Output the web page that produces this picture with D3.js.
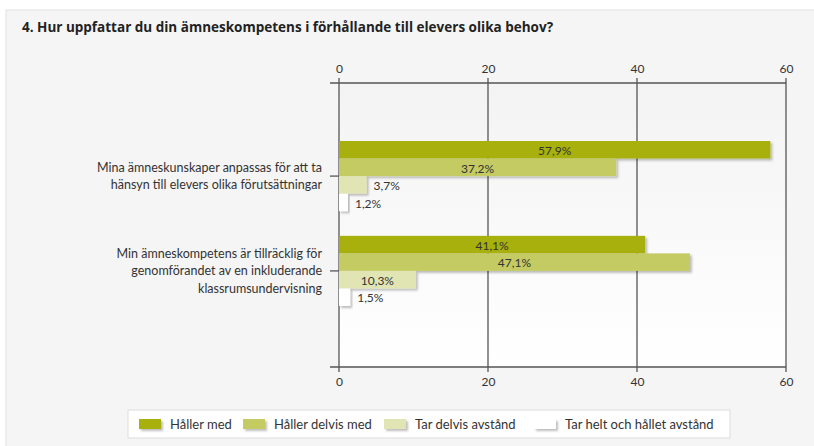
<!DOCTYPE html>
<html>
<head>
<meta charset="utf-8">
<script src="https://cdn.jsdelivr.net/npm/d3@7"></script>
<style>
  body { margin: 0; background: #fff; }
  svg { display: block; font-family: Lato, "Open Sans", sans-serif; }
</style>
</head>
<body>
<svg id="chart" width="814" height="446"></svg>
<script>
// chart data
var title = "4. Hur uppfattar du din ämneskompetens i förhållande till elevers olika behov?";
var categories = [
  ["Mina ämneskunskaper anpassas för att ta", "hänsyn till elevers olika förutsättningar"],
  ["Min ämneskompetens är tillräcklig för", "genomförandet av en inkluderande", "klassrumsundervisning"]
];
var seriesNames = ["Håller med", "Håller delvis med", "Tar delvis avstånd", "Tar helt och hållet avstånd"];
var seriesColors = ["#a7b00d", "#c4cb62", "#e1e5b3", "#ffffff"];
var valuesQ1 = [57.9, 37.2, 3.7, 1.2];
var valuesQ2 = [41.1, 47.1, 10.3, 1.5];
var tickValues = [0, 20, 40, 60];

var allValues = [valuesQ1, valuesQ2];

var svg = d3.select("#chart");

// defs: shadow + plot gradient
var defs = svg.append("defs");
var f = defs.append("filter").attr("id", "shadow")
  .attr("x", "-10%").attr("y", "-20%").attr("width", "130%").attr("height", "160%");
f.append("feDropShadow").attr("dx", 2).attr("dy", 2).attr("stdDeviation", 1.2)
  .attr("flood-color", "#000").attr("flood-opacity", 0.25);
var grad = defs.append("linearGradient").attr("id", "plotbg")
  .attr("x1", 0).attr("y1", 0).attr("x2", 0).attr("y2", 1);
grad.append("stop").attr("offset", "0%").attr("stop-color", "#f3f3f3");
grad.append("stop").attr("offset", "100%").attr("stop-color", "#ffffff");

// panel
svg.append("rect").attr("x", 6).attr("y", 10).attr("width", 820).attr("height", 450)
  .attr("fill", "#f5f5f5").attr("stroke", "#e2e2e2");

svg.append("text").attr("x", 22).attr("y", 32)
  .attr("font-family", "'Open Sans', sans-serif")
  .attr("font-size", 13.5).attr("font-weight", "bold").attr("fill", "#222")
  .text(title);

var plotTop = 83, plotBottom = 367;
var x = d3.scaleLinear().domain([0, 60]).range([339, 786]);
var y = d3.scaleBand().domain(d3.range(categories.length)).range([141, 306]).paddingInner(0.26);
var ySub = d3.scaleBand().domain(d3.range(seriesNames.length)).range([0, y.bandwidth()]);

// plot area
svg.append("rect").attr("x", x(0)).attr("y", plotTop).attr("width", x(60) - x(0)).attr("height", plotBottom - plotTop)
  .attr("fill", "url(#plotbg)");

// grid lines
svg.append("g").selectAll("line").data(tickValues).enter().append("line")
  .attr("x1", function(d) { return x(d); }).attr("x2", function(d) { return x(d); })
  .attr("y1", plotTop - 5).attr("y2", plotBottom + 5)
  .attr("stroke", "#555").attr("stroke-width", 1.3);

// axis lines top/bottom
[plotTop, plotBottom].forEach(function(yy) {
  svg.append("line").attr("x1", 330).attr("x2", x(60)).attr("y1", yy).attr("y2", yy)
    .attr("stroke", "#555").attr("stroke-width", 1.3);
});

// axis labels
var topAxis = d3.axisTop(x).tickValues(tickValues).tickSize(0).tickPadding(10);
var gTop = svg.append("g").attr("transform", "translate(0," + plotTop + ")").call(topAxis);
var botAxis = d3.axisBottom(x).tickValues(tickValues).tickSize(0).tickPadding(10);
var gBot = svg.append("g").attr("transform", "translate(0," + plotBottom + ")").call(botAxis);
[gTop, gBot].forEach(function(g) {
  g.select(".domain").remove();
  g.selectAll("text").attr("font-family", "Lato, sans-serif").attr("font-size", 12).attr("fill", "#333");
});

// category labels and ticks
categories.forEach(function(lines, i) {
  var cy = y(i) + y.bandwidth() / 2;
  svg.append("line").attr("x1", 330).attr("x2", 339).attr("y1", cy).attr("y2", cy)
    .attr("stroke", "#555").attr("stroke-width", 1.3);
  var lh = 17.5;
  var start = cy - (lines.length - 1) * lh / 2;
  lines.forEach(function(line, j) {
    svg.append("text").attr("x", 322).attr("y", start + j * lh).attr("dy", "0.35em")
      .attr("text-anchor", "end").attr("font-size", 12.5).attr("fill", "#333").text(line);
  });
});

// bars
allValues.forEach(function(vals, i) {
  var g = svg.append("g").attr("transform", "translate(0," + y(i) + ")");
  vals.forEach(function(v, k) {
    var w = x(v) - x(0);
    g.append("rect").attr("x", x(0)).attr("y", ySub(k)).attr("width", w).attr("height", ySub.bandwidth())
      .attr("fill", seriesColors[k]).attr("filter", "url(#shadow)");
    var label = d3.format(".1f")(v).replace(".", ",") + "%";
    var inside = v > 5;
    g.append("text")
      .attr("x", inside ? x(0) + w / 2 : x(v) + 7)
      .attr("y", ySub(k) + ySub.bandwidth() / 2 + 1).attr("dy", "0.35em")
      .attr("text-anchor", inside ? "middle" : "start")
      .attr("font-size", 12).attr("fill", "#333").text(label);
  });
});

// legend
var legend = svg.append("g");
legend.append("rect").attr("x", 128).attr("y", 410).attr("width", 602).attr("height", 28)
  .attr("fill", "#fff").attr("stroke", "#ddd");
var legendX = [139, 243, 384, 534];
seriesNames.forEach(function(name, k) {
  legend.append("rect").attr("x", legendX[k]).attr("y", 419).attr("width", 22).attr("height", 10)
    .attr("fill", seriesColors[k]).attr("filter", "url(#shadow)");
  legend.append("text").attr("x", legendX[k] + 31).attr("y", 424).attr("dy", "0.35em")
    .attr("font-size", 13).attr("fill", "#333").text(name);
});
</script>
</body>
</html>
